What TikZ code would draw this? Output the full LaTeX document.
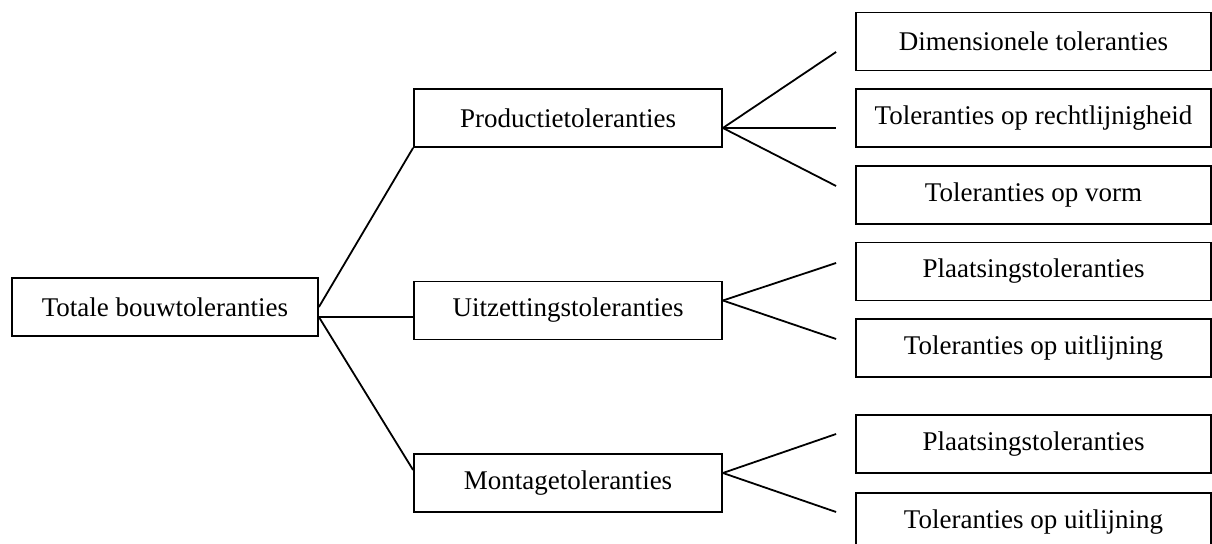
\documentclass[tikz,border=0pt]{standalone}
\usepackage{fontspec}
\setmainfont{Liberation Serif}
\begin{document}
\begin{tikzpicture}[x=0.5pt,y=-0.5pt,line width=0.9pt,
  box/.style={draw,minimum height=29pt,inner sep=0pt,
    font=\fontsize{13.5}{16}\selectfont},
  mid/.style={box,minimum width=154pt},
  leaf/.style={box,minimum width=177.5pt}]
  \clip (0,0) rectangle (1212,544);
  \node[box,minimum width=153pt] (root) at (165,307) {Totale bouwtoleranties};
  \node[mid] (prod) at (568,118) {Productietoleranties};
  \node[mid] (uitz) at (568,310.5) {Uitzettingstoleranties};
  \node[mid] (mont) at (568,483) {Montagetoleranties};
  \node[leaf] (dim) at (1033.5,41.5) {Dimensionele toleranties};
  \node[leaf] (recht) at (1033.5,118) {Toleranties op rechtlijnigheid};
  \node[leaf] (vorm) at (1033.5,195) {Toleranties op vorm};
  \node[leaf] (plaatsU) at (1033.5,271.5) {Plaatsingstoleranties};
  \node[leaf] (uitlU) at (1033.5,348) {Toleranties op uitlijning};
  \node[leaf] (plaatsM) at (1033.5,444) {Plaatsingstoleranties};
  \node[leaf] (uitlM) at (1033.5,522) {Toleranties op uitlijning};
  \draw (root.east) -- (prod.south west);
  \draw ([shift={(0,10)}]root.east) -- ([shift={(0,6.5)}]uitz.west);
  \draw ([shift={(0,10)}]root.east) -- ([shift={(0,-13)}]mont.west);
  \draw ([shift={(0,10)}]prod.east) -- ([shift={(-19,10.5)}]dim.west);
  \draw ([shift={(0,10)}]prod.east) -- ([shift={(-19,10)}]recht.west);
  \draw ([shift={(0,10)}]prod.east) -- ([shift={(-19,-9)}]vorm.west);
  \draw ([shift={(0,-10)}]uitz.east) -- ([shift={(-19,-8.5)}]plaatsU.west);
  \draw ([shift={(0,-10)}]uitz.east) -- ([shift={(-19,-9)}]uitlU.west);
  \draw ([shift={(0,-10)}]mont.east) -- ([shift={(-19,-10)}]plaatsM.west);
  \draw ([shift={(0,-10)}]mont.east) -- ([shift={(-19,-10)}]uitlM.west);
\end{tikzpicture}
\end{document}
